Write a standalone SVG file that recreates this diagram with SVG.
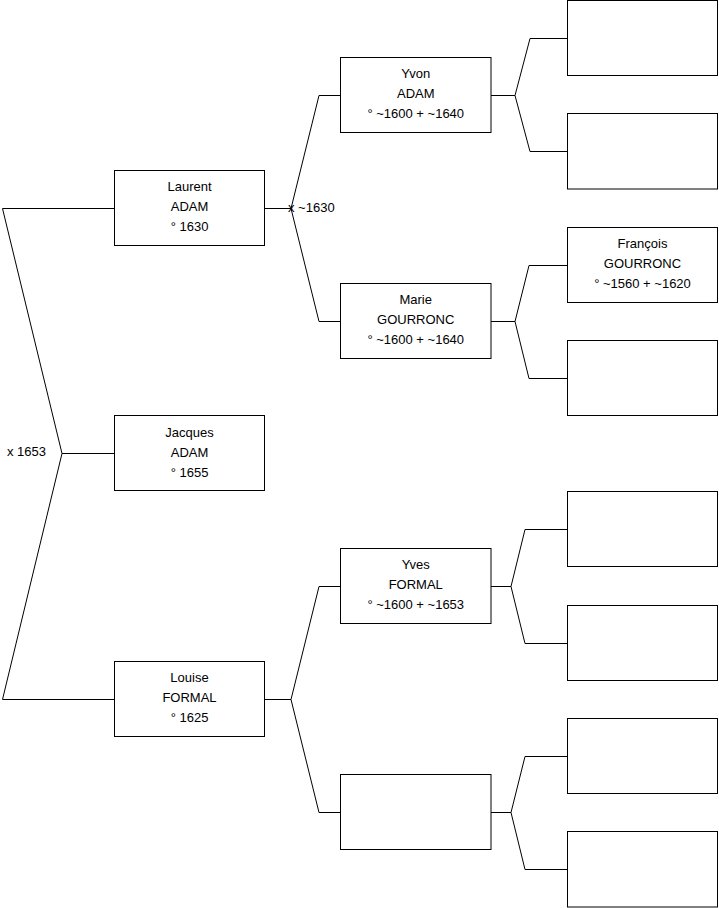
<svg xmlns="http://www.w3.org/2000/svg" width="719" height="908" viewBox="0 0 719 908">
<style>
.box{fill:#fff;stroke:#000;stroke-width:1}
.t{font-family:"Liberation Sans",Arial,sans-serif;font-size:13px;fill:#000;text-anchor:middle}
.lbl{font-family:"Liberation Sans",Arial,sans-serif;font-size:13px;fill:#000}
.c{fill:none;stroke:#000;stroke-width:1}
</style>
<rect width="719" height="908" fill="#fff"/>
<g id="connectors">
<path class="c" d="M114.5,208.5 H2.5 L62,453.5 L2.5,699.5 H114.5 M62,453.5 H114.5"/>
<path class="c" d="M265,208.5 H291 M340.5,95.5 H319 L291,208.5 L319,321.5 H340.5"/>
<path class="c" d="M265,699.5 H291 M340.5,586.5 H319 L291,699.5 L319,812.5 H340.5"/>
<path class="c" d="M491,95.5 H515 M567.5,38.5 H530 L515,95.5 L530,151.5 H567.5"/>
<path class="c" d="M491,321.5 H515 M567.5,265.5 H529 L515,321.5 L529,378.5 H567.5"/>
<path class="c" d="M491,586.5 H511 M567.5,529.5 H525 L511,586.5 L525,643.5 H567.5"/>
<path class="c" d="M491,812.5 H511 M567.5,756.5 H525 L511,812.5 L525,869.5 H567.5"/>
<text class="lbl" x="288" y="212">x ~1630</text>
<text class="lbl" x="7" y="456">x 1653</text>
</g>
<g id="laurent">
<rect class="box" x="114.5" y="170.5" width="150" height="75"/>
<text class="t" x="189.5" y="191">Laurent</text>
<text class="t" x="189.5" y="211">ADAM</text>
<text class="t" x="189.5" y="231">° 1630</text>
</g>
<g id="jacques">
<rect class="box" x="114.5" y="415.5" width="150" height="75"/>
<text class="t" x="189.5" y="437">Jacques</text>
<text class="t" x="189.5" y="457">ADAM</text>
<text class="t" x="189.5" y="477">° 1655</text>
</g>
<g id="louise">
<rect class="box" x="114.5" y="661.5" width="150" height="75"/>
<text class="t" x="189.5" y="682">Louise</text>
<text class="t" x="189.5" y="702">FORMAL</text>
<text class="t" x="189.5" y="722">° 1625</text>
</g>
<g id="yvon">
<rect class="box" x="340.5" y="57.5" width="150.5" height="75"/>
<text class="t" x="415.75" y="78">Yvon</text>
<text class="t" x="415.75" y="98">ADAM</text>
<text class="t" x="415.75" y="118">° ~1600 + ~1640</text>
</g>
<g id="marie">
<rect class="box" x="340.5" y="283.5" width="150.5" height="75"/>
<text class="t" x="415.75" y="304">Marie</text>
<text class="t" x="415.75" y="324">GOURRONC</text>
<text class="t" x="415.75" y="344">° ~1600 + ~1640</text>
</g>
<g id="yves">
<rect class="box" x="340.5" y="548.5" width="150.5" height="75"/>
<text class="t" x="415.75" y="569">Yves</text>
<text class="t" x="415.75" y="589">FORMAL</text>
<text class="t" x="415.75" y="609">° ~1600 + ~1653</text>
</g>
<g id="unknown-mother-louise">
<rect class="box" x="340.5" y="774.5" width="150.5" height="75"/>
</g>
<g id="yvon-father">
<rect class="box" x="567.5" y="0.5" width="150" height="75"/>
</g>
<g id="yvon-mother">
<rect class="box" x="567.5" y="113.5" width="150" height="75.5"/>
</g>
<g id="francois">
<rect class="box" x="567.5" y="227.5" width="150" height="75"/>
<text class="t" x="642.5" y="248">François</text>
<text class="t" x="642.5" y="268">GOURRONC</text>
<text class="t" x="642.5" y="288">° ~1560 + ~1620</text>
</g>
<g id="marie-mother">
<rect class="box" x="567.5" y="340.5" width="150" height="75"/>
</g>
<g id="yves-father">
<rect class="box" x="567.5" y="491.5" width="150" height="75"/>
</g>
<g id="yves-mother">
<rect class="box" x="567.5" y="605.5" width="150" height="75"/>
</g>
<g id="unknown-father">
<rect class="box" x="567.5" y="718.5" width="150" height="75"/>
</g>
<g id="unknown-mother">
<rect class="box" x="567.5" y="831.5" width="150" height="75.5"/>
</g>
</svg>
